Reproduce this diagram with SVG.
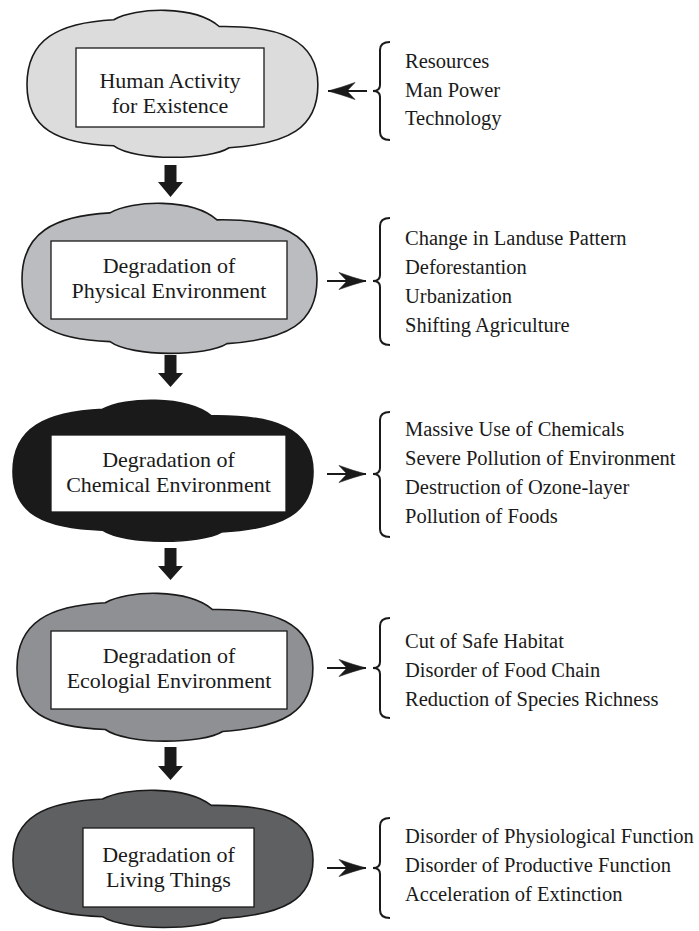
<svg xmlns="http://www.w3.org/2000/svg" xmlns:xlink="http://www.w3.org/1999/xlink" width="699" height="931" viewBox="0 0 699 931">
<style>
.cloud{stroke:#1a1a1a;stroke-width:1.6}
.box{fill:#ffffff;stroke:#1a1a1a;stroke-width:1.3}
.t{font-family:"Liberation Serif","Times New Roman",serif;font-size:22px;fill:#1a1a1a;text-anchor:middle}
.l{font-family:"Liberation Serif","Times New Roman",serif;font-size:20.5px;fill:#1a1a1a}
.brace{fill:none;stroke:#1a1a1a;stroke-width:2}
.hline{fill:none;stroke:#1a1a1a;stroke-width:2}
.down{fill:#1a1a1a}
</style>
<defs>
<path id="cloudShape" vector-effect="non-scaling-stroke" d="M0,77 C0,30 32,13 88,10 C110,-3 170,-5 195,17 C255,16 295,30 295,77 C295,122 265,138 205,142 C185,155 110,156 88,140 C30,138 0,122 0,77 Z"/>
<marker id="ah" markerUnits="userSpaceOnUse" markerWidth="30" markerHeight="20" refX="28" refY="9" orient="auto">
<path d="M28,9 Q16,6 1,0.5 L9,9 L1,17.5 Q16,12 28,9 Z" fill="#1a1a1a" stroke="#1a1a1a" stroke-width="0.6"/>
</marker>
</defs>

<g id="node1">
<use xlink:href="#cloudShape" class="cloud" fill="#dcdcdc" transform="translate(27,10) scale(0.986,0.97)"/>
<rect class="box" x="76" y="48" width="188" height="79"/>
<text class="t" x="170" y="88">Human Activity</text>
<text class="t" x="170" y="113">for Existence</text>
</g>

<g id="node2">
<use xlink:href="#cloudShape" class="cloud" fill="#bbbcbf" transform="translate(22,203) scale(1,0.99)"/>
<rect class="box" x="51" y="241" width="236" height="78"/>
<text class="t" x="169" y="273">Degradation of</text>
<text class="t" x="169" y="298">Physical Environment</text>
</g>

<g id="node3">
<use xlink:href="#cloudShape" class="cloud" fill="#1a1a1a" transform="translate(13,400) scale(1.017,0.93)"/>
<rect class="box" x="51" y="435" width="235" height="77"/>
<text class="t" x="168.5" y="467">Degradation of</text>
<text class="t" x="168.5" y="492">Chemical Environment</text>
</g>

<g id="node4">
<use xlink:href="#cloudShape" class="cloud" fill="#8f9093" transform="translate(17,593) scale(1.003,0.975)"/>
<rect class="box" x="51" y="631" width="236" height="78"/>
<text class="t" x="169" y="663">Degradation of</text>
<text class="t" x="169" y="688">Ecologial Environment</text>
</g>

<g id="node5">
<use xlink:href="#cloudShape" class="cloud" fill="#5f6062" transform="translate(13,790) scale(1.017,0.905)"/>
<rect class="box" x="83" y="828" width="171" height="79"/>
<text class="t" x="168.5" y="862">Degradation of</text>
<text class="t" x="168.5" y="887">Living Things</text>
</g>

<g id="list1">
<path class="brace" d="M390,42 Q380,42 380,50 L380,85 Q380,91 373,91 Q380,91 380,97 L380,132 Q380,140 390,140"/>
<text class="l" x="405" y="68">Resources</text>
<text class="l" x="405" y="97">Man Power</text>
<text class="l" x="405" y="125">Technology</text>
</g>

<g id="list2">
<path class="brace" d="M390,218 Q380,218 380,226 L380,275 Q380,281 373,281 Q380,281 380,287 L380,337 Q380,345 390,345"/>
<text class="l" x="405" y="245">Change in Landuse Pattern</text>
<text class="l" x="405" y="274">Deforestantion</text>
<text class="l" x="405" y="303">Urbanization</text>
<text class="l" x="405" y="332">Shifting Agriculture</text>
</g>

<g id="list3">
<path class="brace" d="M390,412 Q380,412 380,420 L380,468 Q380,474 373,474 Q380,474 380,480 L380,529 Q380,537 390,537"/>
<text class="l" x="405" y="436">Massive Use of Chemicals</text>
<text class="l" x="405" y="465">Severe Pollution of Environment</text>
<text class="l" x="405" y="494">Destruction of Ozone-layer</text>
<text class="l" x="405" y="523">Pollution of Foods</text>
</g>

<g id="list4">
<path class="brace" d="M390,618 Q380,618 380,626 L380,662 Q380,668 373,668 Q380,668 380,674 L380,710 Q380,718 390,718"/>
<text class="l" x="405" y="648">Cut of Safe Habitat</text>
<text class="l" x="405" y="677">Disorder of Food Chain</text>
<text class="l" x="405" y="706">Reduction of Species Richness</text>
</g>

<g id="list5">
<path class="brace" d="M390,818 Q380,818 380,826 L380,862 Q380,868 373,868 Q380,868 380,874 L380,910 Q380,918 390,918"/>
<text class="l" x="405" y="843">Disorder of Physiological Function</text>
<text class="l" x="405" y="872">Disorder of Productive Function</text>
<text class="l" x="405" y="901">Acceleration of Extinction</text>
</g>

<g id="connectors">
<polygon class="down" points="164.5,165 176.5,165 176.5,182 183,182 170.5,197 158,182 164.5,182"/>
<polygon class="down" points="164.5,355 176.5,355 176.5,373 183,373 170.5,387 158,373 164.5,373"/>
<polygon class="down" points="164.5,548 176.5,548 176.5,566 183,566 170.5,580 158,566 164.5,566"/>
<polygon class="down" points="164.5,747 176.5,747 176.5,766 183,766 170.5,780 158,766 164.5,766"/>
<line class="hline" x1="367" y1="91" x2="328" y2="91" marker-end="url(#ah)"/>
<line class="hline" x1="327" y1="281" x2="366" y2="281" marker-end="url(#ah)"/>
<line class="hline" x1="327" y1="474" x2="366" y2="474" marker-end="url(#ah)"/>
<line class="hline" x1="327" y1="668" x2="366" y2="668" marker-end="url(#ah)"/>
<line class="hline" x1="327" y1="868" x2="366" y2="868" marker-end="url(#ah)"/>
</g>
</svg>
